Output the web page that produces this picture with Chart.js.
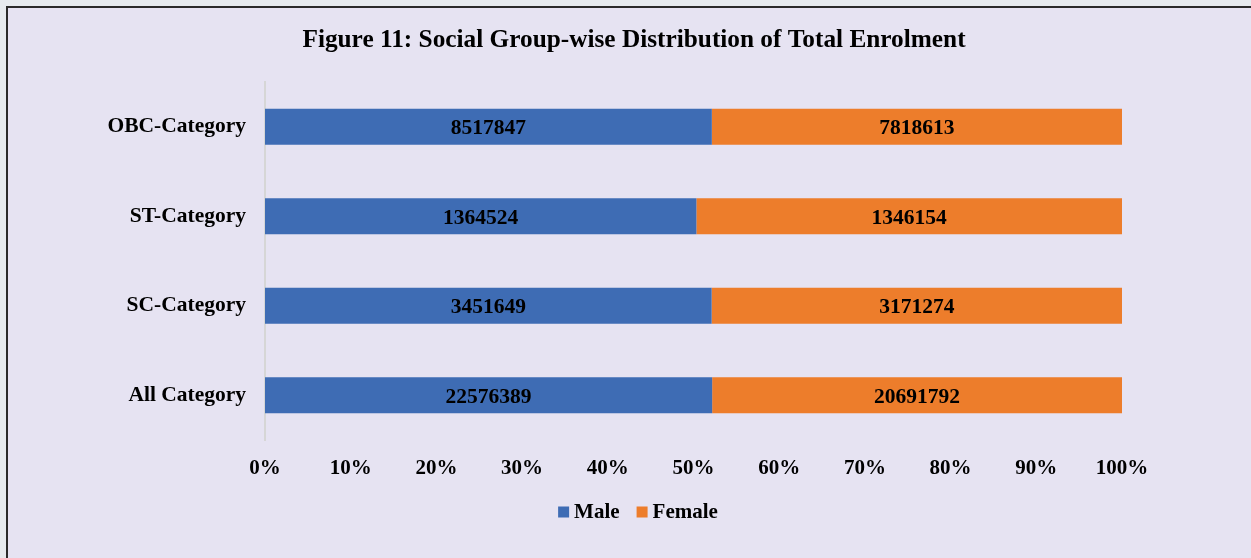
<!DOCTYPE html>
<html>
<head>
<meta charset="utf-8">
<script src="https://cdn.jsdelivr.net/npm/chart.js@4"></script>
<style>
  html, body { margin: 0; padding: 0; background: #e6eaee; overflow: hidden; }
  #frame {
    position: absolute; left: 6px; top: 6px; width: 1260px; height: 570px;
    border: 2px solid #2a2a2a; background: #e6e3f2;
  }
  #wrap { position: absolute; left: 0; top: 0; width: 1251px; height: 558px; }
</style>
</head>
<body>
<div id="frame"></div>
<div id="wrap"><canvas id="myChart" width="1251" height="558"></canvas></div>
<script>
const categories = ["OBC-Category", "ST-Category", "SC-Category", "All Category"];
const maleValues = [8517847, 1364524, 3451649, 22576389];
const femaleValues = [7818613, 1346154, 3171274, 20691792];
const tickLabels = ["0%", "10%", "20%", "30%", "40%", "50%", "60%", "70%", "80%", "90%", "100%"];
const seriesNames = ["Male", "Female"];
const seriesColors = ["#3e6cb4", "#ed7d2b"];
const titleText = "Figure 11: Social Group-wise Distribution of Total Enrolment";

const totals = maleValues.map((m, i) => m + femaleValues[i]);
const malePct = maleValues.map((m, i) => (m / totals[i]) * 100);
const femalePct = femaleValues.map((f, i) => (f / totals[i]) * 100);
const rawValues = [maleValues, femaleValues];

const serif = "'Liberation Serif', 'Times New Roman', serif";

// numbers inside bars, plus title and legend centred on the frame
const extras = {
  id: "extras",
  afterDatasetsDraw(chart) {
    const c = chart.ctx;
    c.save();
    c.font = "bold 21.5px " + serif;
    c.fillStyle = "#000";
    c.textAlign = "center";
    c.textBaseline = "middle";
    chart.data.datasets.forEach((ds, di) => {
      chart.getDatasetMeta(di).data.forEach((bar, i) => {
        const x = (bar.x + bar.base) / 2;
        c.fillText(String(rawValues[di][i]), x, bar.y + 2);
      });
    });
    c.restore();
  },
  afterDraw(chart) {
    const c = chart.ctx;
    c.save();
    c.fillStyle = "#000";
    c.textBaseline = "middle";
    c.textAlign = "center";
    c.font = "bold 25.3px " + serif;
    c.fillText(titleText, 634, 40);

    // legend
    c.font = "bold 21px " + serif;
    c.textAlign = "left";
    const box = 11, gapIn = 5, gapOut = 17;
    const widths = seriesNames.map((n) => c.measureText(n).width);
    let total = 0;
    widths.forEach((w, i) => { total += box + gapIn + w + (i < widths.length - 1 ? gapOut : 0); });
    let x = 638 - total / 2;
    const y = 512;
    seriesNames.forEach((n, i) => {
      c.fillStyle = seriesColors[i];
      c.fillRect(x, y - 5.5, box, box);
      c.fillStyle = "#000";
      c.fillText(n, x + box + gapIn, y + 1);
      x += box + gapIn + widths[i] + gapOut;
    });
    c.restore();
  }
};

const ctx = document.getElementById("myChart");
const chart = new Chart(ctx, {
  type: "bar",
  data: {
    labels: categories,
    datasets: [
      {
        label: seriesNames[0],
        data: malePct,
        backgroundColor: seriesColors[0],
        barPercentage: 0.4,
        categoryPercentage: 1,
      },
      {
        label: seriesNames[1],
        data: femalePct,
        backgroundColor: seriesColors[1],
        barPercentage: 0.4,
        categoryPercentage: 1,
      },
    ],
  },
  options: {
    indexAxis: "y",
    responsive: false,
    animation: false,
    layout: { padding: { left: 0, right: 129, top: 82, bottom: 73 } },
    scales: {
      x: {
        stacked: true,
        min: 0,
        max: 100,
        grid: { display: false },
        border: { display: false },
        ticks: {
          stepSize: 10,
          padding: 8,
          color: "#000",
          font: { family: serif, size: 21, weight: "bold" },
          callback: (v, i) => tickLabels[i],
        },
        afterFit: (scale) => { scale.height = 45; },
      },
      y: {
        stacked: true,
        grid: { display: false },
        border: { display: true, color: "#d6d6d6", width: 2 },
        ticks: {
          padding: 11,
          color: "#000",
          font: { family: serif, size: 21.5, weight: "bold", lineHeight: 1.3 },
        },
        afterFit: (scale) => { scale.width = 265; },
      },
    },
    plugins: {
      title: { display: false },
      legend: { display: false },
      tooltip: { enabled: false },
    },
  },
  plugins: [extras],
});
</script>
</body>
</html>
